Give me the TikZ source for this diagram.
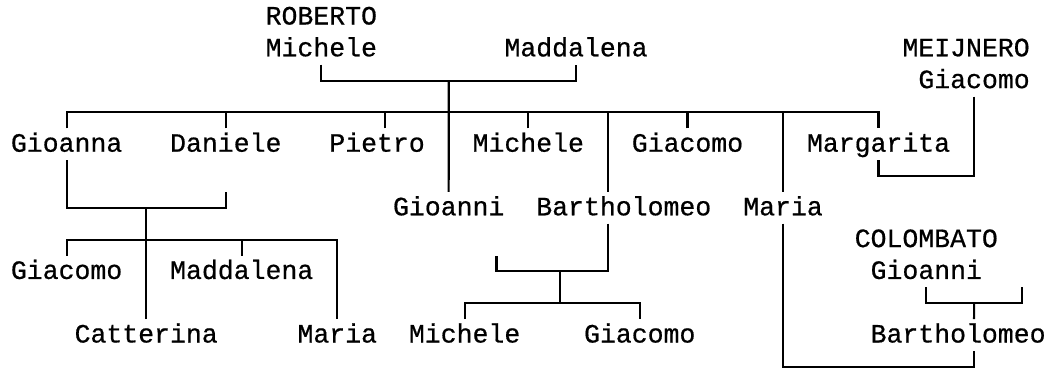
\documentclass[tikz,border=0pt]{standalone}
\usepackage{fontspec}
\setmonofont{Liberation Mono}[FakeBold=0.6]
\usetikzlibrary{calc}

\begin{document}
\begin{tikzpicture}[x=15.92pt, y=-31.8pt,
  person/.style={anchor=west, inner sep=0pt, outer sep=0pt,
    text height=23.4pt, text depth=8.4pt,
    font=\ttfamily\fontsize{26.5}{31.8}\selectfont},
  link/.style={line width=2.1pt}]
  \useasboundingbox (-1.187,-0.535) rectangle (65.08,11.16);

  % Genitori
  \node[person] (roberto) at (15.5,0) {ROBERTO};
  \node[person] (michele) at (15.5,1) {Michele};
  \node[person] (maddalena) at (30.5,1) {Maddalena};
  \node[person] (meijnero) at (55.5,1) {MEIJNERO};
  \node[person] (giacomoM) at (56.5,2) {Giacomo};

  % Figli
  \node[person] (gioanna) at (-0.5,4) {Gioanna};
  \node[person] (daniele) at (9.5,4) {Daniele};
  \node[person] (pietro) at (19.5,4) {Pietro};
  \node[person] (michele2) at (28.5,4) {Michele};
  \node[person] (giacomo2) at (38.5,4) {Giacomo};
  \node[person] (margarita) at (49.5,4) {Margarita};
  \node[person] (gioanni) at (23.5,6) {Gioanni};
  \node[person] (bartholomeo) at (32.5,6) {Bartholomeo};
  \node[person] (maria) at (45.5,6) {Maria};

  % Nipoti
  \node[person] (colombato) at (52.5,7) {COLOMBATO};
  \node[person] (giacomo3) at (-0.5,8) {Giacomo};
  \node[person] (maddalena2) at (9.5,8) {Maddalena};
  \node[person] (gioanni2) at (53.5,8) {Gioanni};
  \node[person] (catterina) at (3.5,10) {Catterina};
  \node[person] (maria2) at (17.5,10) {Maria};
  \node[person] (michele3) at (24.5,10) {Michele};
  \node[person] (giacomo4) at (35.5,10) {Giacomo};
  \node[person] (bartholomeo2) at (53.5,10) {Bartholomeo};

  % Punti liberi delle staffe
  \coordinate (sposa1) at (30,7.5);
  \coordinate (sposa2) at (63,8.5);
  \coordinate (coppia1) at (27,2);
  \coordinate (coppia2) at (34,8);
  \coordinate (coppia3) at (60,9);

  % Michele + Maddalena
  \draw[link] (michele.south) -- ++(0,0.5) -| (maddalena.south);
  \draw[link] (coppia1) -- (gioanni.north);
  \draw[link] (gioanna.north) -- ++(0,-0.5) -| (margarita.north);
  \foreach \n in {daniele, michele2, giacomo2}
    \draw[link] (\n.north) -- ++(0,-0.5);
  \draw[link] ($(pietro.north)+(0.5,0)$) -- ++(0,-0.5);
  \draw[link] ($(bartholomeo.north)+(-1,0)$) -- ++(0,-2.5);
  \draw[link] (maria.north) -- ++(0,-2.5);

  % Margarita + Giacomo
  \draw[link] (giacomoM.south) -- ++(0,2.5) -| (margarita.south);

  % Gioanna + Daniele
  \draw[link] (gioanna.south) -- ++(0,1.5) -| ($(daniele.south)+(0,1)$);
  \draw[link] (catterina.north) -- ++(0,-3.5);
  \draw[link] (giacomo3.north) -- ++(0,-0.5) -| (maria2.north);
  \draw[link] (maddalena2.north) -- ++(0,-0.5);

  % Bartholomeo
  \draw[link] ($(bartholomeo.south)+(-1,0)$) -- ++(0,1.5) -| (sposa1);
  \draw[link] (coppia2) -- ++(0,1);
  \draw[link] (michele3.north) -- ++(0,-0.5) -| (giacomo4.north);

  % Maria + Gioanni
  \draw[link] (maria.south) -- ++(0,4.5) -| ($(bartholomeo2.south)+(1,0)$);
  \draw[link] (gioanni2.south) -- ++(0,0.5) -| (sposa2);
  \draw[link] (coppia3) -- ($(bartholomeo2.north)+(1,0)$);
\end{tikzpicture}
\end{document}
